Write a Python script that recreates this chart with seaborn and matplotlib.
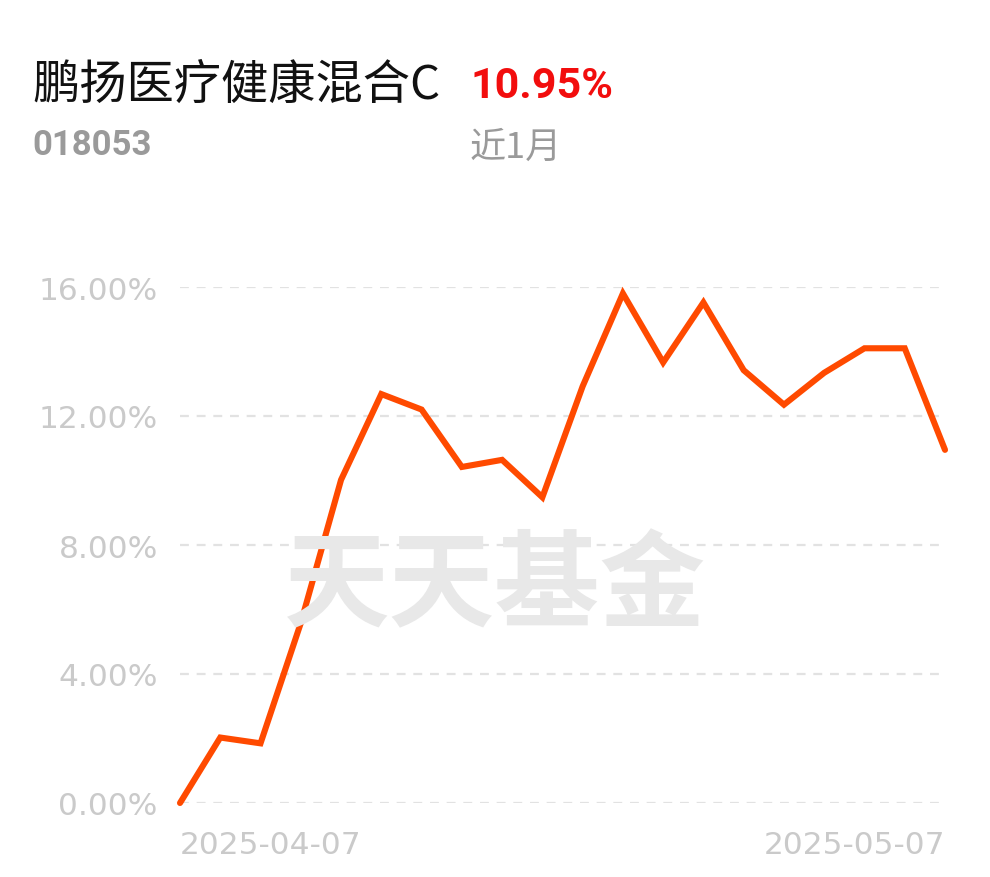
import matplotlib
matplotlib.use("Agg")
import matplotlib.pyplot as plt
import pandas as pd
import seaborn as sns

# fund info
fund_name = "鹏扬医疗健康混合C"
fund_code = "018053"
period_label = "近1月"
period_return = "10.95%"

# trading days and cumulative return (%)
dates = [
    "2025-04-07", "2025-04-08", "2025-04-09", "2025-04-10", "2025-04-11",
    "2025-04-14", "2025-04-15", "2025-04-16", "2025-04-17", "2025-04-18",
    "2025-04-21", "2025-04-22", "2025-04-23", "2025-04-24", "2025-04-25",
    "2025-04-28", "2025-04-29", "2025-04-30", "2025-05-06", "2025-05-07",
]
returns = [
    0.00, 2.03, 1.85, 5.58, 10.02,
    12.68, 12.20, 10.42, 10.64, 9.48,
    12.92, 15.80, 13.66, 15.52, 13.42,
    12.35, 13.34, 14.10, 14.10, 10.95,
]
y_ticks = [0, 4, 8, 12, 16]

df = pd.DataFrame({"date": dates, "ret": returns})
df["pos"] = range(len(df))

sns.set_style("white")
plt.rcParams["font.family"] = ["Noto Sans CJK SC", "DejaVu Sans"]

fig = plt.figure(figsize=(9.9, 8.78), dpi=100)
ax = fig.add_axes([180 / 990, 1 - 804 / 878, 765 / 990, 516 / 878])

# watermark
fig.text(0.50, 1 - 588 / 878, "天天基金", ha="center", va="center",
         fontsize=76, fontweight="black", color="#e8e8e8", zorder=0)
ax.patch.set_alpha(0)

sns.lineplot(data=df, x="pos", y="ret", color="#ff4a00", linewidth=4.4,
             ax=ax, clip_on=False, solid_joinstyle="miter")

tick_color = "#cacaca"
ax.set_xlim(0, len(df) - 1)
ax.set_ylim(0, 16)
ax.set_yticks(y_ticks)
ax.set_yticklabels([f"{t:.2f}%" for t in y_ticks], fontsize=22.5,
                   color=tick_color, family="DejaVu Sans")
ax.tick_params(axis="y", length=0, pad=16)
ax.set_xticks([])
for y in y_ticks:
    ax.axhline(y, color="#e2e2e2", linewidth=1.6, linestyle=(0, (4, 3.5)),
               zorder=0)
for s in ax.spines.values():
    s.set_visible(False)
ax.set_xlabel("")
ax.set_ylabel("")

# first / last date labels
ax.text(0, -1.3, dates[0], ha="left", va="center", fontsize=22.5,
        color=tick_color, family="DejaVu Sans")
ax.text(len(df) - 1, -1.3, dates[-1], ha="right", va="center", fontsize=22.5,
        color=tick_color, family="DejaVu Sans")

# header
fig.text(32 / 990, 1 - 86 / 878, fund_name, ha="left", va="center",
         fontsize=34, color="#111111")
fig.text(470 / 990, 1 - 87 / 878, period_return, ha="left", va="center",
         fontsize=31, fontweight="bold", color="#f20d0d",
         family=["Roboto", "DejaVu Sans"])
fig.text(32 / 990, 1 - 146 / 878, fund_code, ha="left", va="center",
         fontsize=25, fontweight="bold", color="#9a9a9a",
         family=["Roboto", "DejaVu Sans"])
fig.text(470 / 990, 1 - 148 / 878, period_label, ha="left", va="center",
         fontsize=26, color="#9a9a9a")

fig.savefig("out.png", dpi=100, facecolor="white")
